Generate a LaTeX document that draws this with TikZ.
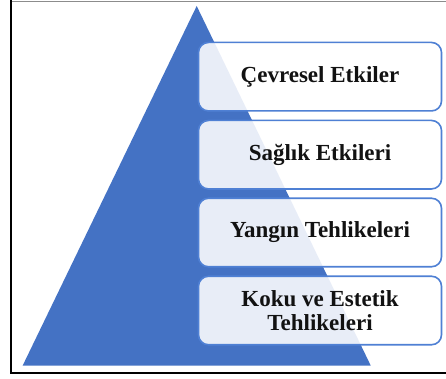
\documentclass[tikz,border=0pt]{standalone}
\usepackage{fontspec}
\setmainfont{Liberation Serif}
\definecolor{pyrblue}{HTML}{4472C4}
\definecolor{boxline}{HTML}{4F80D4}
\begin{document}
\begin{tikzpicture}[x=1pt,y=-1pt,
  levelbox/.style={draw=boxline, line width=1.6pt, fill=white, fill opacity=0.88, text opacity=1,
    rounded corners=10pt, minimum width=243pt, minimum height=68.5pt, inner sep=0pt,
    font=\fontsize{23}{24}\selectfont\bfseries, text=black!93, align=center}]
\useasboundingbox (0,0) rectangle (446,379);
\fill[white] (0,0) rectangle (446,379);
% frame
\draw[black!45, line width=0.8pt] (10,1) -- (446,1);
\draw[black, line width=2pt] (11,0) -- (11,373) -- (446,373);
% pyramid
\fill[pyrblue] (196.7,6) -- (370.7,365.5) -- (22.7,365.5) -- cycle;
% boxes
\node[levelbox] (b1) at (320,76.7) {Çevresel Etkiler};
\node[levelbox] (b2) at (320,154.7) {Sağlık Etkileri};
\node[levelbox] (b3) at (320,232.5) {Yangın Tehlikeleri};
\node[levelbox] (b4) at (320,310.5) {Koku ve Estetik\\Tehlikeleri};
\end{tikzpicture}
\end{document}
